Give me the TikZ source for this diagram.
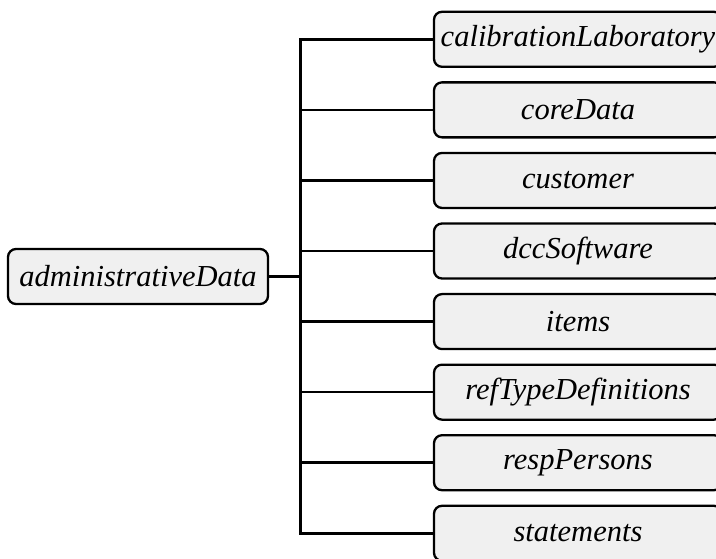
\documentclass[tikz,border=0pt]{standalone}
\usepackage{fontspec}
\setmainfont{Liberation Serif}
\usetikzlibrary{positioning}

\definecolor{boxgray}{HTML}{F0F0F0}

\begin{document}
\begin{tikzpicture}[
  x=1pt, y=-1pt,
  elem/.style={draw, rounded corners=8pt, fill=boxgray, line width=2.3pt,
    minimum height=55pt, inner sep=0pt,
    font=\fontsize{30.5}{36}\selectfont\itshape},
  link/.style={line width=2.5pt},
]
  \useasboundingbox (0,0) rectangle (716,559);

  \node[elem, minimum width=260pt] (admin) at (138,276.5) {administrativeData};
  \coordinate (fork) at (300.7,276.5);

  \foreach \name [count=\i from 0] in {calibrationLaboratory, coreData,
      customer, dccSoftware, items, refTypeDefinitions, respPersons, statements} {
    \node[elem, minimum width=288pt] (\name) at (578,39.3+70.57*\i) {\name};
    \draw[link] (admin.east) -- (fork) |- (\name.west);
  }
  \draw[line width=3.5pt] (admin.east) -- (fork);
\end{tikzpicture}
\end{document}
